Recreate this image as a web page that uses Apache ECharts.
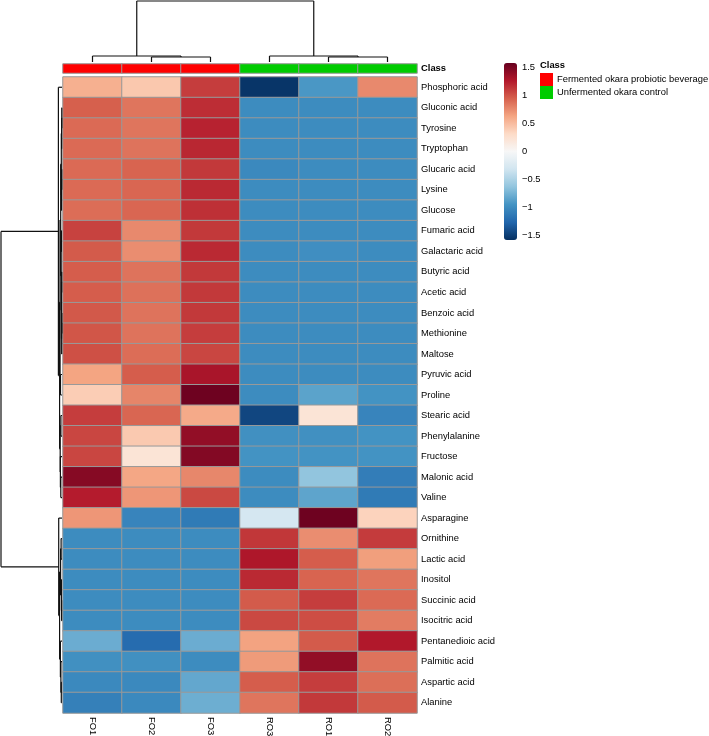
<!DOCTYPE html>
<html>
<head>
<meta charset="utf-8">
<script src="https://cdn.jsdelivr.net/npm/echarts@6/dist/echarts.min.js"></script>
<style>
html,body{margin:0;padding:0;background:#fff;}
#chart{width:709px;height:736px;}
</style>
</head>
<body>
<div id="chart"></div>
<script>
// ---------- data ----------
const samples = ['FO1', 'FO2', 'FO3', 'RO3', 'RO1', 'RO2'];
const sampleClass = [0, 0, 0, 1, 1, 1];
const classNames = ['Fermented okara probiotic beverage', 'Unfermented okara control'];
const classColors = ['#FF0000', '#00CC00'];
const metabolites = [
  'Phosphoric acid', 'Gluconic acid', 'Tyrosine', 'Tryptophan', 'Glucaric acid', 'Lysine',
  'Glucose', 'Fumaric acid', 'Galactaric acid', 'Butyric acid', 'Acetic acid', 'Benzoic acid',
  'Methionine', 'Maltose', 'Pyruvic acid', 'Proline', 'Stearic acid', 'Phenylalanine',
  'Fructose', 'Malonic acid', 'Valine', 'Asparagine', 'Ornithine', 'Lactic acid', 'Inositol',
  'Succinic acid', 'Isocitric acid', 'Pentanedioic acid', 'Palmitic acid', 'Aspartic acid', 'Alanine'
];
// z-scores, columns in the order of `samples`
const values = [
  [0.57, 0.43, 1.10, -1.55, -0.92, 0.76],
  [0.95, 0.85, 1.17, -1.00, -1.00, -1.00],
  [0.90, 0.85, 1.22, -1.00, -1.00, -1.00],
  [0.90, 0.86, 1.20, -1.00, -1.00, -1.00],
  [0.90, 0.93, 1.12, -1.02, -1.00, -1.00],
  [0.90, 0.92, 1.19, -1.00, -1.00, -1.00],
  [0.89, 0.92, 1.16, -1.00, -1.00, -1.00],
  [1.08, 0.76, 1.12, -1.00, -1.00, -1.00],
  [0.97, 0.74, 1.19, -1.00, -0.98, -1.00],
  [0.96, 0.86, 1.12, -1.00, -1.00, -1.00],
  [0.96, 0.87, 1.12, -1.00, -1.00, -1.00],
  [0.98, 0.86, 1.12, -1.00, -1.00, -1.00],
  [0.99, 0.86, 1.10, -1.00, -1.00, -1.00],
  [1.02, 0.89, 1.06, -1.00, -1.00, -1.00],
  [0.63, 0.96, 1.30, -1.00, -1.00, -1.00],
  [0.40, 0.78, 1.55, -1.00, -0.85, -0.95],
  [1.10, 0.92, 0.60, -1.45, 0.22, -1.05],
  [1.06, 0.42, 1.40, -0.97, -0.97, -0.95],
  [1.06, 0.22, 1.46, -0.95, -0.95, -0.95],
  [1.45, 0.62, 0.77, -1.00, -0.63, -1.10],
  [1.25, 0.70, 1.05, -1.00, -0.84, -1.12],
  [0.70, -1.05, -1.12, -0.28, 1.55, 0.36],
  [-1.00, -1.00, -1.00, 1.13, 0.74, 1.11],
  [-1.00, -1.00, -1.00, 1.28, 0.96, 0.66],
  [-1.00, -1.00, -1.00, 1.19, 0.93, 0.85],
  [-1.00, -1.00, -1.00, 0.97, 1.10, 0.90],
  [-1.00, -1.00, -1.00, 1.05, 1.03, 0.82],
  [-0.79, -1.22, -0.79, 0.64, 0.97, 1.27],
  [-0.97, -0.97, -1.00, 0.68, 1.40, 0.86],
  [-1.02, -1.02, -0.82, 0.96, 1.10, 0.88],
  [-1.08, -1.02, -0.78, 0.85, 1.12, 0.97]
];
const colorTicks = [-1.5, -1, -0.5, 0, 0.5, 1, 1.5];
const colorMin = -1.58, colorMax = 1.58;
const palette = ['#053061', '#2166AC', '#4393C3', '#92C5DE', '#D1E5F0', '#F7F7F7',
                 '#FDDBC7', '#F4A582', '#D6604D', '#B2182B', '#67001F'];
// dendrograms: [mergeHeight, left, right]; leaves are indices
const colTree = [61, [6, 0, [5, 1, 2]], [6, 3, [5, 4, 5]]];
const rowTree = [61,
  [3.6, 0,
    [2.4,
      [2.0,
        [1.3,
          [0.7, [0.4, [0.25, 1, 2], 3], [0.5, [0.3, 4, 5], 6]],
          [0.9, [0.6, 7, 8], [0.5, [0.3, 9, 10], [0.35, [0.2, 11, 12], 13]]]
        ],
        [1.5, 14, 15]
      ],
      [1.8, [1.1, 16, 17], [1.6, 18, [1.2, 19, 20]]]
    ]
  ],
  [3.3, 21,
    [2.4,
      [1.4, [0.9, 22, 23], [0.6, 24, [0.4, 25, 26]]],
      [1.6, 27, [1.1, 28, [0.7, 29, 30]]]
    ]
  ]
];

// ---------- build ----------
function treeSegments(node, segs) {
  if (typeof node === 'number') return { pos: node + 0.5, h: 0 };
  const h = node[0];
  const A = treeSegments(node[1], segs);
  const B = treeSegments(node[2], segs);
  segs.push([A.pos, A.h, A.pos, h]);
  segs.push([B.pos, B.h, B.pos, h]);
  segs.push([A.pos, h, B.pos, h]);
  return { pos: (A.pos + B.pos) / 2, h: h };
}
const colSegs = []; treeSegments(colTree, colSegs);
const rowSegsRaw = []; treeSegments(rowTree, rowSegsRaw);
const rowSegs = rowSegsRaw.map(s => [s[1], s[0], s[3], s[2]]); // x = height, y = row position

const heatData = [];
values.forEach((row, r) => row.forEach((v, c) => heatData.push([c, r, v])));
const classData = sampleClass.map((k, c) => [c, 0, k]);

const FONT = '"Liberation Sans", Arial, sans-serif';
const FS = 9.4;

function segRender(params, api) {
  const p1 = api.coord([api.value(0), api.value(1)]);
  const p2 = api.coord([api.value(2), api.value(3)]);
  return { type: 'line', shape: { x1: p1[0], y1: p1[1], x2: p2[0], y2: p2[1] },
           style: { stroke: '#111', lineWidth: 1.2 } };
}

const G = { outerBoundsMode: 'none', containLabel: false };
const chart = echarts.init(document.getElementById('chart'), null, { renderer: 'canvas' });
chart.setOption({
  animation: false,
  textStyle: { fontFamily: FONT },
  grid: [
    Object.assign({ left: 63, top: 77, width: 354, height: 636 }, G),
    Object.assign({ left: 63, top: 64, width: 354, height: 9 }, G),
    Object.assign({ left: 63, top: 1, width: 354, height: 61 }, G),
    Object.assign({ left: 1, top: 77, width: 61, height: 636 }, G),
    Object.assign({ left: 504, top: 63, width: 13, height: 177 }, G)
  ],
  xAxis: [
    { type: 'category', gridIndex: 0, data: samples, position: 'bottom',
      axisLine: { show: false }, axisTick: { show: false }, splitLine: { show: false },
      axisLabel: { rotate: -90, margin: 4, fontSize: FS, color: '#000', fontFamily: FONT,
                   overflow: 'none', width: 40 } },
    { type: 'category', gridIndex: 1, data: samples, show: false },
    { type: 'value', gridIndex: 2, min: 0, max: 6, show: false },
    { type: 'value', gridIndex: 3, min: 0, max: 61, inverse: true, show: false },
    { type: 'value', gridIndex: 4, min: 0, max: 1, show: false }
  ],
  yAxis: [
    { type: 'category', gridIndex: 0, data: metabolites, inverse: true, position: 'right',
      axisLine: { show: false }, axisTick: { show: false }, splitLine: { show: false },
      axisLabel: { margin: 4, fontSize: FS, color: '#000', fontFamily: FONT } },
    { type: 'category', gridIndex: 1, data: ['Class'], position: 'right',
      axisLine: { show: false }, axisTick: { show: false },
      axisLabel: { margin: 4, fontSize: FS, color: '#000', fontWeight: 'bold', fontFamily: FONT } },
    { type: 'value', gridIndex: 2, min: 0, max: 61, show: false },
    { type: 'value', gridIndex: 3, min: 0, max: 31, inverse: true, show: false },
    { type: 'value', gridIndex: 4, min: colorMin, max: colorMax, position: 'right',
      axisLine: { show: false }, axisTick: { show: false }, splitLine: { show: false },
      axisLabel: { customValues: colorTicks, margin: 5, fontSize: FS, color: '#000', fontFamily: FONT,
                   formatter: v => String(v).replace('-', '\u2212') } }
  ],
  visualMap: [
    { type: 'continuous', seriesIndex: 0, min: colorMin, max: colorMax,
      inRange: { color: palette }, left: 504, top: 63, itemWidth: 13, itemHeight: 177,
      padding: 0, calculable: false, hoverLink: false, orient: 'vertical' },
    { type: 'piecewise', seriesIndex: 1, orient: 'vertical', inverse: true, align: 'left',
      pieces: [
        { value: 0, label: classNames[0], color: classColors[0] },
        { value: 1, label: classNames[1], color: classColors[1] }
      ],
      left: 540, top: 73, padding: 0, itemWidth: 13, itemHeight: 13, itemGap: 0, textGap: 4,
      itemSymbol: 'rect', hoverLink: false, selectedMode: false,
      textStyle: { fontSize: FS, color: '#000', fontFamily: FONT } }
  ],
  graphic: [
    { type: 'text', left: 540, top: 61,
      style: { text: 'Class', font: 'bold ' + FS + 'px ' + FONT, fill: '#000' } }
  ],
  series: [
    { type: 'heatmap', xAxisIndex: 0, yAxisIndex: 0, data: heatData,
      itemStyle: { borderColor: '#999', borderWidth: 1 }, emphasis: { disabled: true } },
    { type: 'heatmap', xAxisIndex: 1, yAxisIndex: 1, data: classData,
      itemStyle: { borderColor: '#999', borderWidth: 1 }, emphasis: { disabled: true } },
    { type: 'custom', xAxisIndex: 2, yAxisIndex: 2, data: colSegs, renderItem: segRender, silent: true },
    { type: 'custom', xAxisIndex: 3, yAxisIndex: 3, data: rowSegs, renderItem: segRender, silent: true }
  ]
});
</script>
</body>
</html>
